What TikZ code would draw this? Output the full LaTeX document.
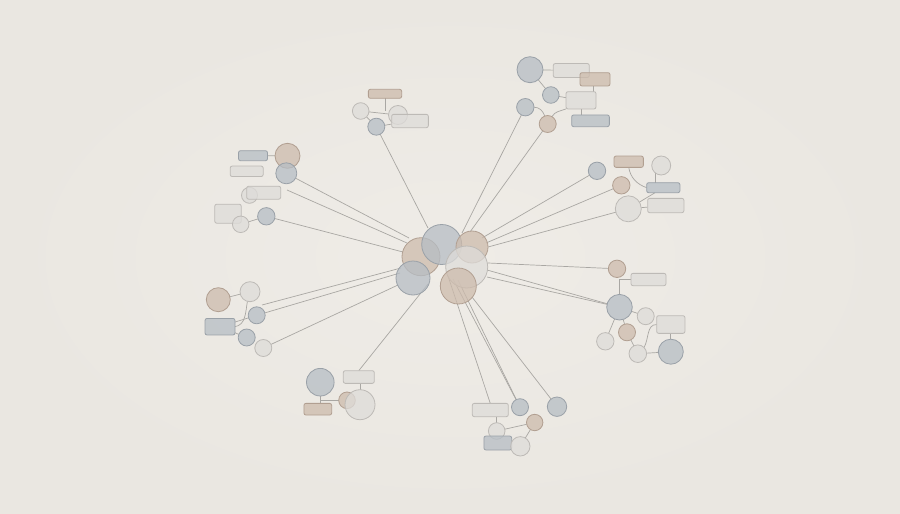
\documentclass[tikz,border=0pt]{standalone}
\usetikzlibrary{backgrounds}
\definecolor{bgin}{HTML}{EFECE7}
\definecolor{bgout}{HTML}{EAE7E1}
\definecolor{bfill}{HTML}{B6BDC4}
\definecolor{bdraw}{HTML}{9AA1A8}
\definecolor{tfill}{HTML}{CDBBAC}
\definecolor{tdraw}{HTML}{B19F91}
\definecolor{gfill}{HTML}{DEDCD9}
\definecolor{gdraw}{HTML}{BDBAB6}
\definecolor{ln}{HTML}{A9A7A3}
\pgfdeclarelayer{bottom}
\pgfsetlayers{bottom,background,main}
\tikzset{
  conn/.style={draw=ln, line width=0.7pt},
  shp/.style={inner sep=0pt, outer sep=0pt, line width=0.8pt, fill opacity=0.75},
  bc/.style={shp, circle, draw=bdraw, fill=bfill, minimum size=#1},
  tc/.style={shp, circle, draw=tdraw, fill=tfill, minimum size=#1},
  gc/.style={shp, circle, draw=gdraw, fill=gfill, minimum size=#1},
  brect/.style 2 args={shp, rectangle, rounded corners=2pt, draw=bdraw, fill=bfill, minimum width=#1, minimum height=#2},
  trect/.style 2 args={shp, rectangle, rounded corners=2pt, draw=tdraw, fill=tfill, minimum width=#1, minimum height=#2},
  grect/.style 2 args={shp, rectangle, rounded corners=2pt, draw=gdraw, fill=gfill, minimum width=#1, minimum height=#2},
}
\begin{document}
\begin{tikzpicture}[x=1pt,y=-1pt]
\useasboundingbox (0,0) rectangle (900,514);
\begin{pgfonlayer}{bottom}
\shade[inner color=bgin, outer color=bgout] (0,0) rectangle (900,514);
\end{pgfonlayer}

% hub end points
\coordinate (hTL1) at (409,238);
\coordinate (hTL2) at (407,243);
\coordinate (hTL3) at (403,252);
\coordinate (hL1) at (401,268);
\coordinate (hL2) at (400,273);
\coordinate (hL3) at (398,285);
\coordinate (hTM) at (428,228);
\coordinate (hTR1) at (462,233);
\coordinate (hTR2) at (470,232);
\coordinate (hRT1) at (482,238);
\coordinate (hRT2) at (486,243);
\coordinate (hRT3) at (488,247);
\coordinate (hR1) at (488,263);
\coordinate (hR2) at (487,270);
\coordinate (hR3) at (487,277);
\coordinate (hB1) at (448,276);
\coordinate (hB2) at (453,279);
\coordinate (hB3) at (458,280);
\coordinate (hB4) at (472,297);
\coordinate (hBL) at (428,284);
\coordinate (tlS) at (287,190);
\coordinate (lS) at (262,305);

% ---------- top-left cluster
\node[tc=25pt] (tlT) at (287.5,155.8) {};
\node[bc=21pt] (tlB) at (286.3,173.3) {};
\node[brect={29pt}{10pt}] (tlR1) at (253,155.7) {};
\node[grect={33pt}{10.5pt}] (tlR2) at (246.7,171.3) {};
\node[gc=16pt] (tlC1) at (249.5,195.3) {};
\node[grect={34pt}{13pt}] (tlR3) at (263.7,192.7) {};
\node[grect={26.5pt}{19pt}] (tlR4) at (228,213.7) {};
\node[gc=16.5pt] (tlC2) at (240.7,224.3) {};
\node[bc=17.4pt] (tlB2) at (266.3,216.3) {};

% ---------- left cluster
\node[tc=24pt] (lT) at (218.3,299.7) {};
\node[gc=20pt] (lC) at (250,291.7) {};
\node[bc=17pt] (lB) at (256.7,315.3) {};
\node[brect={30pt}{16.5pt}] (lR) at (220,326.7) {};
\node[bc=17pt] (lB2) at (246.7,337.5) {};
\node[gc=17pt] (lC2) at (263.3,348) {};

% ---------- top-middle cluster
\node[trect={33.3pt}{9pt}] (tmR) at (385,93.8) {};
\node[gc=16.6pt] (tmC1) at (360.7,111) {};
\node[gc=19pt] (tmC2) at (398,115) {};
\node[grect={36.7pt}{13.3pt}] (tmR2) at (410,121) {};
\node[bc=17pt] (tmB) at (376.3,126.7) {};

% ---------- top-right cluster
\node[bc=26pt] (trB1) at (530,69.7) {};
\node[grect={36pt}{14pt}] (trR1) at (571.3,70.5) {};
\node[trect={30pt}{13.3pt}] (trR2) at (595,79.3) {};
\node[bc=16.6pt] (trB2) at (550.8,95) {};
\node[grect={30pt}{17.3pt}] (trR3) at (581,100.3) {};
\node[brect={37.7pt}{11.7pt}] (trR4) at (590.5,120.8) {};
\node[bc=17.4pt] (trB3) at (525.3,107.2) {};
\node[tc=17pt] (trT) at (547.7,124) {};

% ---------- right-top cluster
\node[bc=17.4pt] (rtB) at (597,170.8) {};
\node[trect={29.3pt}{11.3pt}] (rtR1) at (628.7,161.7) {};
\node[gc=19pt] (rtC1) at (661.2,165.5) {};
\node[tc=17.4pt] (rtT) at (621.3,185.3) {};
\node[brect={33.3pt}{10pt}] (rtR2) at (663.3,187.7) {};
\node[gc=26pt] (rtC2) at (628.3,208.8) {};
\node[grect={36.3pt}{14.3pt}] (rtR3) at (665.8,205.5) {};

% ---------- right cluster
\node[tc=17.4pt] (rT) at (617,268.8) {};
\node[grect={35pt}{12.3pt}] (rR1) at (648.5,279.5) {};
\node[bc=25.6pt] (rB) at (619.5,307.2) {};
\node[gc=17pt] (rC1) at (645.7,316.2) {};
\node[tc=17pt] (rT2) at (627,332.3) {};
\node[grect={28.3pt}{17.7pt}] (rR2) at (670.8,324.5) {};
\node[gc=17.4pt] (rC2) at (605.3,341.3) {};
\node[gc=17.6pt] (rC3) at (637.8,353.7) {};
\node[bc=25pt] (rB2) at (670.8,351.7) {};

% ---------- bottom cluster
\node[grect={36pt}{13.3pt}] (bR) at (490.3,410) {};
\node[bc=17pt] (bB1) at (520,407.2) {};
\node[bc=19.4pt] (bB2) at (557,406.7) {};
\node[tc=16.4pt] (bT) at (534.7,422.5) {};
\node[gc=16.6pt] (bC1) at (496.7,431) {};
\node[brect={27.7pt}{14pt}] (bR2) at (497.8,443) {};
\node[gc=19.4pt] (bC2) at (520.3,446.3) {};

% ---------- bottom-left cluster
\node[bc=27.6pt] (blB) at (320.3,382.2) {};
\node[grect={31pt}{12.7pt}] (blR) at (358.8,377) {};
\node[trect={27.7pt}{11.7pt}] (blR2) at (317.8,409.2) {};
\node[tc=16.6pt] (blT) at (347,400.3) {};
\node[gc=30pt] (blC) at (360,404.7) {};

% ---------- centre cluster
\node[tc=38pt] (cT1) at (421,256.7) {};
\node[bc=40pt] (cB1) at (441.7,244.5) {};
\node[tc=32pt] (cT2) at (472,247) {};
\node[gc=42pt] (cG) at (466.7,267) {};
\node[bc=34pt] (cB2) at (413,278) {};
\node[tc=36pt] (cT3) at (458.3,286) {};

% ---------- connectors (behind the shapes)
\begin{pgfonlayer}{background}
% spokes
\draw[conn] (tlB) -- (hTL1);
\draw[conn] (tlS) -- (hTL2);
\draw[conn] (tlB2) -- (hTL3);
\draw[conn] (lS) -- (hL1);
\draw[conn] (lB) -- (hL2);
\draw[conn] (lC2) -- (hL3);
\draw[conn] (tmB) -- (hTM);
\draw[conn] (trB3) -- (hTR1);
\draw[conn] (trT) -- (hTR2);
\draw[conn] (rtB) -- (hRT1);
\draw[conn] (rtT) -- (hRT2);
\draw[conn] (rtC2) -- (hRT3);
\draw[conn] (rT) -- (hR1);
\draw[conn] (rB) -- (hR2);
\draw[conn] (rB) -- (hR3);
\draw[conn] (bR.north) -- (hB1);
\draw[conn] (bB1) -- (hB2);
\draw[conn] (bB1) -- (hB3);
\draw[conn] (bB2) -- (hB4);
\draw[conn] (blR.north) -- (hBL);
% top-left
\draw[conn] (tlR1) -- (tlT);
\draw[conn] (tlB2) -- (tlC2);
% left
\draw[conn] (lT) -- (lC);
\draw[conn] (lC.255) to[out=-100,in=10] (lR.east);
\draw[conn] (lB) -- (lR);
\draw[conn] (lR) -- (lB2);
% top-middle
\draw[conn] (tmC1) -- (tmC2);
\draw[conn] (tmR.south) -- (tmR.south |- tmC1.east);
\draw[conn] (tmC1) -- (tmB);
\draw[conn] (tmB) -- (tmR2);
% top-right
\draw[conn] (trB1) -- (trR1);
\draw[conn] (trB1) -- (trB2);
\draw[conn] ([xshift=-2pt]trR2.south) -- ([xshift=-2pt]trR2.south |- trR3.north);
\draw[conn] (trB2) -- (trR3);
\draw[conn] (trB3.east) to[out=0,in=110] (trT);
\draw[conn] (trT) to[out=60,in=200] (trR3.south west);
\draw[conn] (trR3.south) -- (trR3.south |- trR4.north);
% right-top
\draw[conn] (rtR1.south) to[out=-80,in=160] (rtR2.west);
\draw[conn] (rtC1.235) -- (rtC1.235 |- rtR2.north);
\draw[conn] (rtC2) -- (rtR2);
\draw[conn] (rtC2) -- (rtR3);
% right
\draw[conn] (rR1.west) -| (rB.north);
\draw[conn] (rB) -- (rC1);
\draw[conn] (rB) -- (rT2);
\draw[conn] (rB) -- (rC2);
\draw[conn] (rT2) -- (rC3);
\draw[conn] (rC3.north east) to[out=60,in=180] (rR2.west);
\draw[conn] (rR2.south) -- (rB2.north);
\draw[conn] (rC3) -- (rB2);
% bottom
\draw[conn] (bC1.north |- bR.south) -- (bC1);
\draw[conn] (bC1) -- (bT);
\draw[conn] (bT) -- (bC2);
% bottom-left
\draw[conn] (blB.south) -- (blB.south |- blR2.north);
\draw[conn] (blB.south |- blT.west) -- (blT.west);
\draw[conn] (blR.south -| blC.north) -- (blC.north);
\end{pgfonlayer}
\end{tikzpicture}
\end{document}
